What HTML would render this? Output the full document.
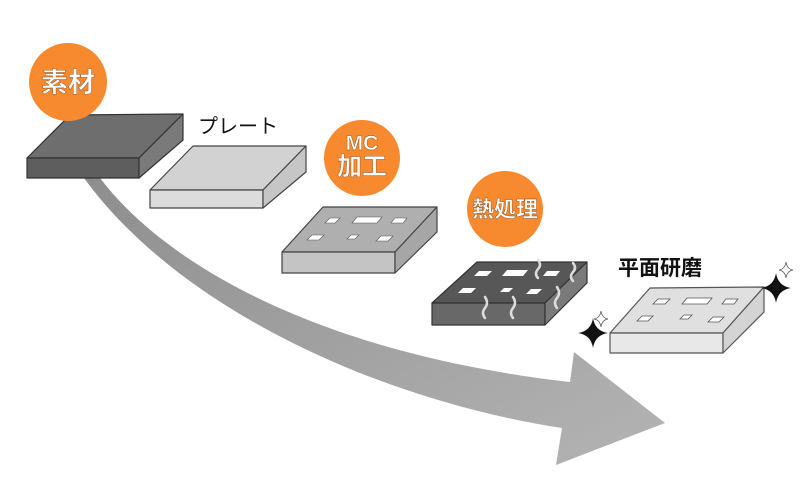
<!DOCTYPE html>
<html><head><meta charset="utf-8"><style>
html,body{margin:0;padding:0;background:#fff;}
svg{display:block;}
text{font-family:"Liberation Sans","Noto Sans CJK JP",sans-serif;}
</style></head><body>
<svg width="800" height="500" viewBox="0 0 800 500" xmlns="http://www.w3.org/2000/svg">
<defs>
<linearGradient id="ag" x1="0" y1="0" x2="1" y2="1">
<stop offset="0" stop-color="#8e8e8e"/><stop offset="1" stop-color="#b4b4b4"/>
</linearGradient>
</defs>
<!-- big arrow -->
<path d="M100,178 C170,270 330,355 570,382 L574,352 L665,423 L556,465 L562,428 C380,400 180,310 84,178 Z" fill="url(#ag)"/>

<!-- block 1 -->
<g stroke="#333" stroke-width="1.2" stroke-linejoin="round">
<polygon points="27,158 70,115 183,114 139,158" fill="#6e6e6e"/>
<polygon points="27,158 139,158 139,178 27,178" fill="#5e5e5e"/>
<polygon points="139,158 183,114 183,140 139,178" fill="#7a7a7a"/>
</g>
<!-- block 2 -->
<g stroke="#444" stroke-width="1.2" stroke-linejoin="round">
<polygon points="150,190 193,146 306,146 263,190" fill="#d2d2d2"/>
<polygon points="150,190 263,190 263,208 150,208" fill="#dcdcdc"/>
<polygon points="263,190 306,146 306,172 263,208" fill="#c6c6c6"/>
</g>
<!-- block 3 -->
<g stroke="#444" stroke-width="1.2" stroke-linejoin="round">
<polygon points="282,252 323,207 437,207 395,252" fill="#afafaf"/>
<polygon points="282,252 395,252 395,273 282,273" fill="#c4c4c4"/>
<polygon points="395,252 437,207 437,232 395,273" fill="#a6a6a6"/>
</g>
<g fill="#fff" stroke="#555" stroke-width="0.6">
<polygon points="325,223 330,218 340,218 335,223"/>
<polygon points="352,223 357,217 382,217 377,223"/>
<polygon points="391,223 395,218 407,218 403,223"/>
<polygon points="307,240 312,235 324,235 319,240"/>
<polygon points="347,239 351,235 359,235 355,239"/>
<polygon points="376,241 381,236 393,236 388,241"/>
</g>
<!-- block 4 -->
<g stroke="#333" stroke-width="1.2" stroke-linejoin="round">
<polygon points="432,303 477,262 587,262 545,303" fill="#575757"/>
<polygon points="432,303 545,303 545,325 432,325" fill="#686868"/>
<polygon points="545,303 587,262 587,283 545,325" fill="#7a7a7a"/>
</g>
<g fill="#fff">
<polygon points="474,276 479,271 492,271 487,276"/>
<polygon points="502,276 507,270 528,270 523,276"/>
<polygon points="543,276 547,271 560,271 556,276"/>
<polygon points="458,293 463,288 476,288 471,293"/>
<polygon points="500,292 504,288 513,288 509,292"/>
<polygon points="526,294 531,289 542,289 537,294"/>
</g>
<g fill="none" stroke="#ddd" stroke-width="2.5" stroke-linecap="round">
<path d="M538,260 q4,5 0,9 q-4,5 0,9"/>
<path d="M573,263 q4,5 0,9 q-4,5 0,9"/>
<path d="M485,297 q4,6 0,11 q-4,5 0,10"/>
<path d="M513,297 q4,6 0,11 q-4,5 0,10"/>
<path d="M557,287 q4,6 0,11 q-4,5 0,10"/>
</g>
<!-- block 5 -->
<g stroke="#555" stroke-width="1.2" stroke-linejoin="round">
<polygon points="610,333 650,288 764,287 723,333" fill="#e0e0e0"/>
<polygon points="610,333 723,333 723,353 610,353" fill="#e8e8e8"/>
<polygon points="723,333 764,287 764,312 723,353" fill="#d4d4d4"/>
</g>
<g fill="#fff" stroke="#555" stroke-width="0.8">
<polygon points="653,304 658,299 670,299 665,304"/>
<polygon points="682,304 687,298 712,298 707,304"/>
<polygon points="722,304 726,299 738,299 734,304"/>
<polygon points="637,321 642,316 653,316 648,321"/>
<polygon points="680,319 684,315 692,315 688,319"/>
<polygon points="708,322 713,317 724,317 719,322"/>
</g>
<!-- sparkles -->
<g fill="#111">
<path d="M593,318 Q595,331 608,333 Q595,335 593,348 Q591,335 578,333 Q591,331 593,318 Z"/>
<path d="M776,273 Q778,286 791,288 Q778,290 776,303 Q774,290 761,288 Q774,286 776,273 Z"/>
</g>
<g fill="#fff" stroke="#555" stroke-width="0.8">
<path d="M601,311 Q602,318 608,319 Q602,320 601,327 Q600,320 594,319 Q600,318 601,311 Z"/>
<path d="M786,262 Q787,269 793,270 Q787,271 786,278 Q785,271 779,270 Q785,269 786,262 Z"/>
</g>
<!-- circles -->
<g fill="#f7892f">
<circle cx="68" cy="82" r="39"/>
<circle cx="362" cy="158" r="38"/>
<circle cx="505" cy="209" r="38"/>
</g>
<g fill="#fff" stroke="#7a4a20" stroke-width="0.4" font-weight="bold" text-anchor="middle">
<text x="68" y="92" font-size="27">素材</text>
<text x="362" y="150" font-size="21">MC</text>
<text x="362" y="175" font-size="25">加工</text>
<text x="505" y="217" font-size="22">熱処理</text>
</g>
<text x="198" y="133" font-size="20" fill="#111">プレート</text>
<text x="618" y="275" font-size="21" font-weight="bold" fill="#111">平面研磨</text>
</svg>
</body></html>
